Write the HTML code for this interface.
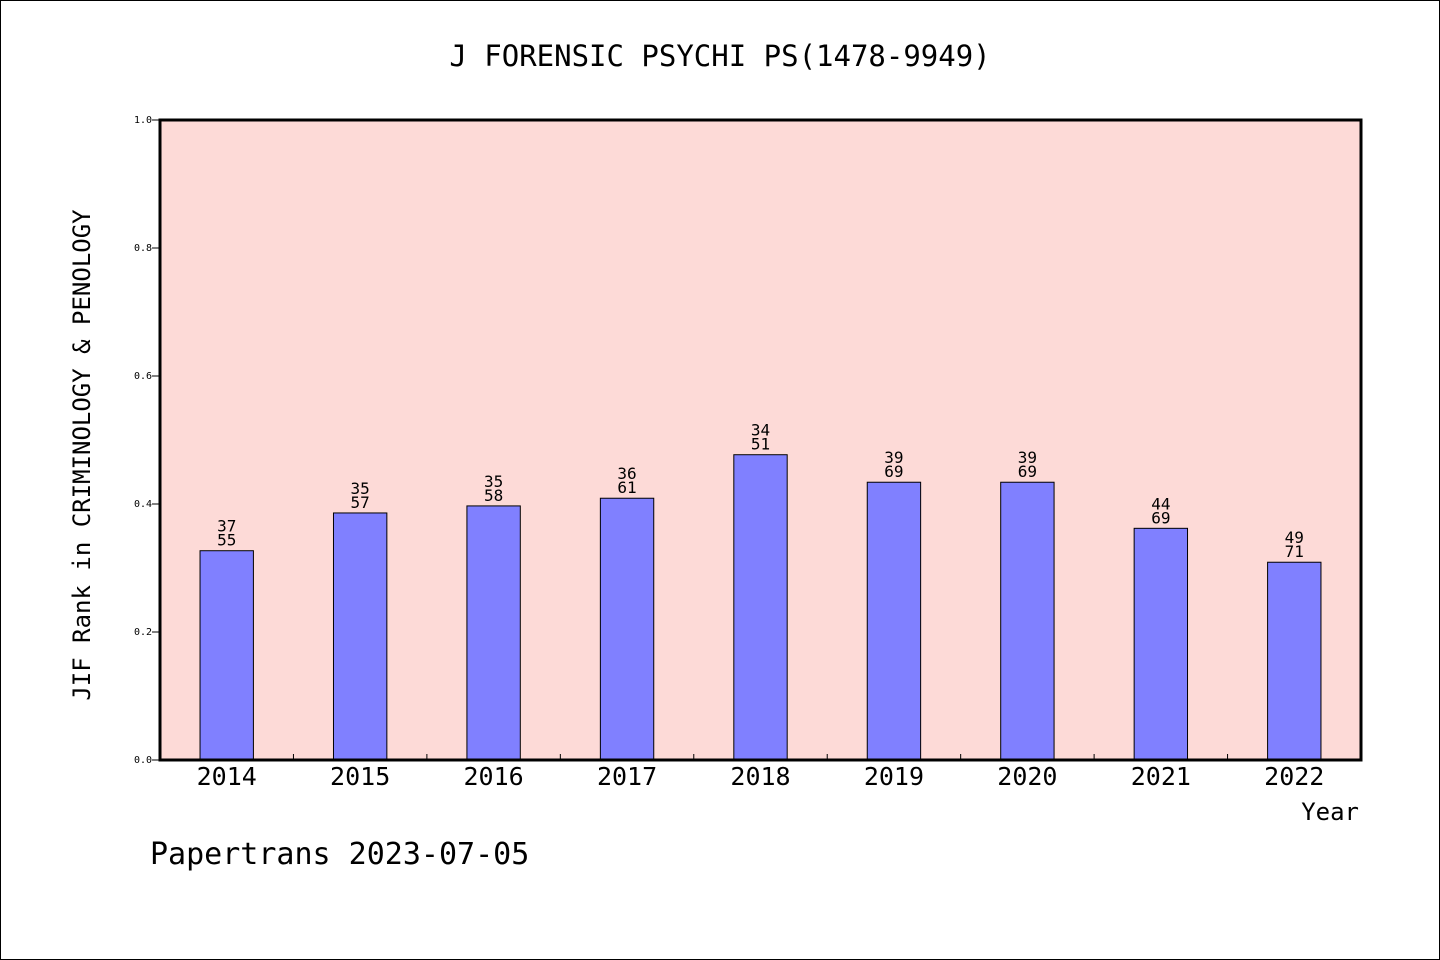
<!DOCTYPE html>
<html><head><meta charset="utf-8"><style>
html,body{margin:0;padding:0;background:#fff}
svg{display:block;font-family:"DejaVu Sans Mono","Liberation Mono",monospace}
</style></head><body>
<svg id="chart" width="1440" height="960" viewBox="0 0 1440 960">
<rect x="0.5" y="0.5" width="1439" height="959" fill="#fff" stroke="#000"/>
<text x="720" y="66" text-anchor="middle" font-size="29">J FORENSIC PSYCHI PS(1478-9949)</text>
<rect x="160" y="120" width="1201" height="640" fill="#fddad7"/>
<g id="yaxis"></g><g id="bars"></g><g id="xaxis"></g>
<rect x="160" y="120" width="1201" height="640" fill="none" stroke="#000" stroke-width="3"/>
<text x="90" y="455" text-anchor="middle" font-size="24" transform="rotate(-90 90 455)">JIF Rank in CRIMINOLOGY &amp; PENOLOGY</text>
<text x="1359" y="820" text-anchor="end" font-size="24">Year</text>
<text x="150" y="864" font-size="30">Papertrans 2023-07-05</text>
</svg>
<script>
const years = ['2014','2015','2016','2017','2018','2019','2020','2021','2022'];
const values = [0.327,0.386,0.397,0.409,0.477,0.434,0.434,0.362,0.309];
const ranks = [37,35,35,36,34,39,39,44,49];
const totals = [55,57,58,61,51,69,69,69,71];
const yTicks = [0,0.2,0.4,0.6,0.8,1.0];
const NS='http://www.w3.org/2000/svg';
const X0=160,X1=1361,Y0=760,Y1=120;
const band=(X1-X0)/years.length;
const xc=i=>X0+band*(i+0.5);
const y=v=>Y0-(Y0-Y1)*v;
function mk(tag,attrs,parent,txt){const e=document.createElementNS(NS,tag);for(const k in attrs)e.setAttribute(k,attrs[k]);if(txt!==undefined)e.textContent=txt;parent.appendChild(e);return e;}
const ya=document.getElementById('yaxis'),ba=document.getElementById('bars'),xa=document.getElementById('xaxis');
yTicks.forEach(t=>{
  const l=mk('line',{x1:X0-8,x2:X0,y1:y(t),y2:y(t),stroke:'#000','stroke-width':1},ya);
  
  
  const tx=mk('text',{x:X0-8,y:y(t)+3,'text-anchor':'end','font-size':10},ya,t.toFixed(1));
  
  
});
const bw=band*0.4;
years.forEach((yr,i)=>{
  const v=values[i];
  const r=mk('rect',{x:xc(i)-bw/2,y:y(v),width:bw,height:Y0-y(v),fill:'#8080ff',stroke:'#000','stroke-width':1},ba);
  
  
  const a=mk('text',{x:xc(i),y:y(v)-19,'text-anchor':'middle','font-size':16},ba,String(ranks[i]));
  
  
  const b=mk('text',{x:xc(i),y:y(v)-5,'text-anchor':'middle','font-size':16},ba,String(totals[i]));
  
  
  const tl=mk('text',{x:xc(i),y:785,'text-anchor':'middle','font-size':25},xa,yr);
  
  
  if(i>0){
    const tk=mk('line',{x1:X0+band*i,x2:X0+band*i,y1:Y0,y2:Y0-6,stroke:'#000','stroke-width':1},xa);
    
    
  }
});
</script>
</body></html>
